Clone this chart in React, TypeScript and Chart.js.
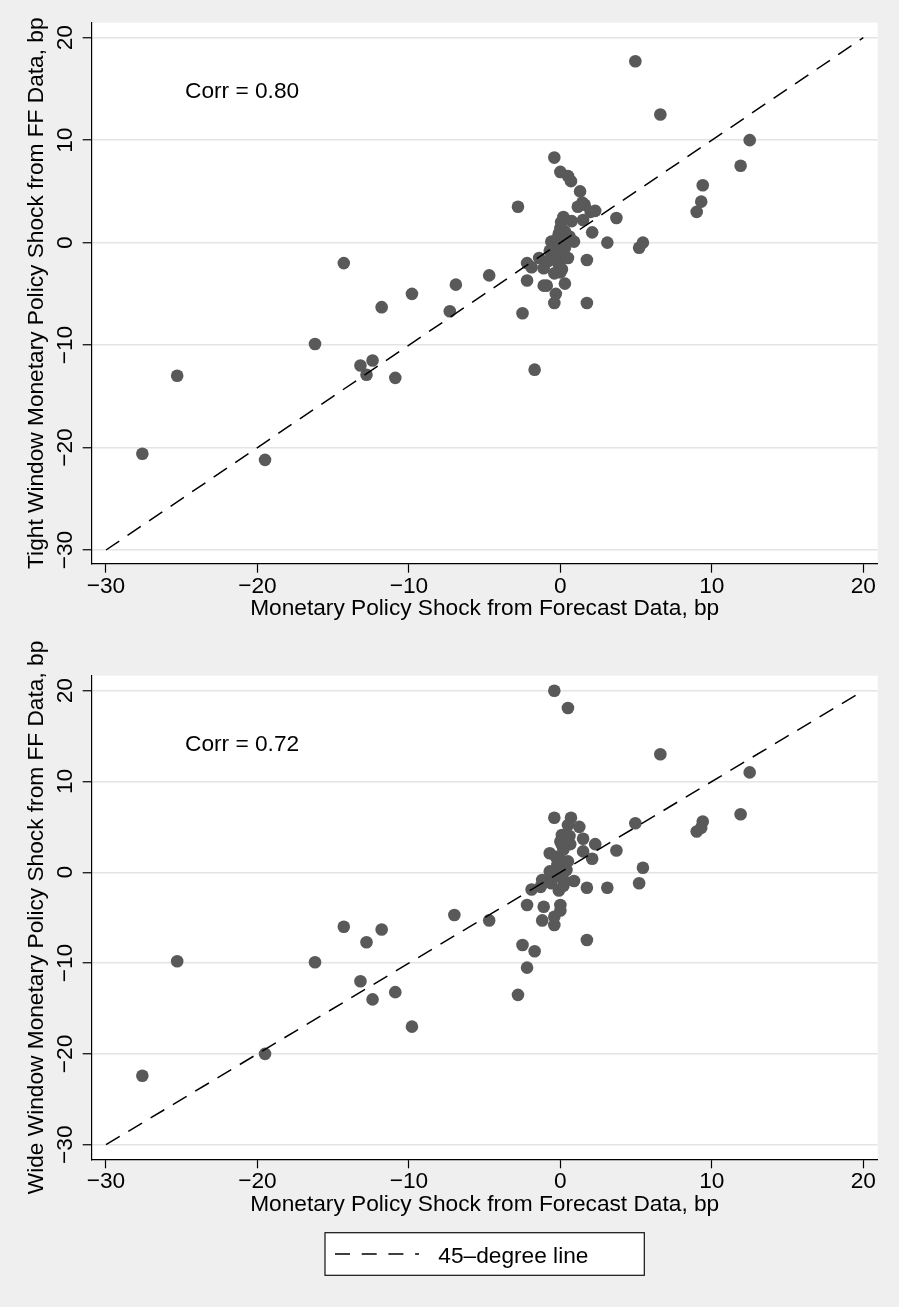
import React, { useEffect, useRef } from 'react';
import { Chart, registerables } from 'chart.js';

Chart.register(...registerables);

// ---- data ----
const topX = [
  -27.6, -25.3, -19.5, -16.2, -14.3, -13.2, -12.8, -12.4, -11.8, -10.9, -9.8, -7.3, -6.9, -4.7, -2.8, -2.5, -1.7,
  4.95, 6.6, 12.5, 11.9, 9.4, 9.3, 9.0, 5.45, 5.2, 3.1, 3.7, 2.3, 2.1, 1.75, 1.75,
  -0.4, 0.0, 0.5, 0.7, 1.3, 1.45, 1.15, 1.6, 2.0,
  0.2, 0.75, 1.5, 0.05, 0.0, -0.1, 0.3, 0.9, -0.6, -0.3, 0.0, 0.4, 0.6, -0.2, 0.2,
  -1.4, -2.2, -1.9, -1.1, -0.5, -0.1, 0.1, -0.4, 0.0, -2.2, -1.1, -0.9, 0.3, -0.3, -0.4,
  0.3, -0.7, 0.1, -0.2, 0.5, -0.8,
];
const topY = [
  -20.6, -13.0, -21.2, -9.9, -2.0, -12.0, -12.9, -11.5, -6.3, -13.2, -5.0, -6.7, -4.1, -3.2, 3.5, -6.9, -12.4,
  17.7, 12.5, 10.0, 7.5, 5.6, 4.0, 3.0, 0.0, -0.5, 0.0, 2.4, 3.1, 1.0, -1.7, -5.9,
  8.3, 6.9, 6.5, 6.0, 5.0, 3.9, 3.5, 3.7, 3.0,
  2.5, 2.1, 2.2, 2.0, 1.4, 0.9, 1.1, 0.1, 0.1, -0.1, -0.4, 0.4, 0.6, -0.9, -1.1,
  -1.5, -2.0, -2.4, -2.5, -1.6, -2.1, -2.6, -3.0, -2.9, -3.7, -4.2, -4.2, -4.0, -5.0, -5.9,
  -0.5, -0.8, 0.6, 0.4, -1.5, -1.8,
];

const bottomX = [
  -27.6, -25.3, -19.5, -16.2, -14.3, -13.2, -12.8, -12.4, -11.8, -10.9, -9.8, -7.0, -4.7, -2.8, -2.5, -2.2, -1.7, 1.75,
  -0.4, 0.5, 6.6, 12.5, 11.9, 9.4, 9.3, 9.0, 4.95, 5.45, 5.2, 3.1, 1.75, 3.7, 2.3, 2.1,
  -0.4, 0.7, 0.5, 1.25, 0.1, 0.0, 0.65, 1.5, 1.5, -0.7, 0.0, 0.5, -0.7, -1.2, -1.9, -1.3,
  0.0, -0.1, 0.9, 0.4, -2.2, -1.1, 0.0, 0.0, -0.4, -1.2, -0.4,
  0.2, -0.2, 0.3, -0.5, 0.1, -0.3, 0.6, 0.2, -0.6,
];
const bottomY = [
  -22.4, -9.8, -20.0, -9.9, -6.0, -12.0, -7.7, -14.0, -6.3, -13.2, -17.0, -4.7, -5.3, -13.5, -8.0, -10.5, -8.7, -7.45,
  20.0, 18.1, 13.0, 11.0, 6.4, 5.6, 4.9, 4.5, 5.4, 0.5, -1.2, -1.7, -1.7, 2.4, 3.1, 1.5,
  6.0, 6.0, 5.2, 5.0, 4.1, 3.4, 3.1, 3.7, 2.3, 2.1, 1.35, 1.2, 0.1, -0.85, -1.9, -1.6,
  -0.5, -2.0, -0.95, 0.25, -3.6, -3.8, -3.6, -4.2, -4.9, -5.3, -5.8,
  2.5, 0.8, -1.0, -0.3, 3.0, 1.7, 4.0, -1.5, -1.2,
];

const lineX = [-30, 20];
const lineY = [-30, 20];
const axisTicks = [-30, -20, -10, 0, 10, 20];

const xTitle = 'Monetary Policy Shock from Forecast Data, bp';
const topYTitle = 'Tight Window Monetary Policy Shock from FF Data, bp';
const bottomYTitle = 'Wide Window Monetary Policy Shock from FF Data, bp';
const topCorr = 'Corr = 0.80';
const bottomCorr = 'Corr = 0.72';
const legendLabel = '45\u2013degree line';

// ---- styling ----
const FONT = '"Liberation Sans", Arial, Helvetica, sans-serif';
const FS = 22.7;
const POINT = '#595959';
const fmt = (v: number) => String(v).replace('-', '\u2212');

type Opts = {
  xs: number[];
  ys: number[];
  yMin: number;
  yMax: number;
  yTitle: string;
  corr: string;
  pad: { left: number; right: number; top: number; bottom: number };
  xHeight: number;
  xTitlePad: number;
  tickPad: number;
  showLegend: boolean;
};

function buildChart(canvas: HTMLCanvasElement, o: Opts) {
  const points = o.xs.map((x, i) => ({ x, y: o.ys[i] }));
  const line = lineX.map((x, i) => ({ x, y: lineY[i] }));

  const decor = {
    id: 'decor',
    beforeDraw(chart: any) {
      const { ctx, chartArea: a } = chart;
      ctx.save();
      ctx.fillStyle = '#ffffff';
      ctx.fillRect(a.left, a.top, a.right - a.left, a.bottom - a.top);
      ctx.restore();
    },
    afterDraw(chart: any) {
      const { ctx, chartArea: a, scales } = chart;
      const ys = scales.y;
      ctx.save();
      ctx.fillStyle = '#000';
      ctx.font = `${FS}px ${FONT}`;
      ctx.textAlign = 'center';
      ctx.textBaseline = 'alphabetic';
      for (const v of axisTicks) {
        const py = ys.getPixelForValue(v);
        ctx.save();
        ctx.translate(72, py);
        ctx.rotate(-Math.PI / 2);
        ctx.fillText(fmt(v), 0, 0);
        ctx.restore();
      }
      ctx.save();
      ctx.translate(43, (a.top + a.bottom) / 2);
      ctx.rotate(-Math.PI / 2);
      ctx.fillText(o.yTitle, 0, 0);
      ctx.restore();

      ctx.textAlign = 'left';
      ctx.fillText(o.corr, 185, a.top + 75.3);

      if (o.showLegend) {
        const bx = 325, by = a.bottom + 73.4, bw = 319.3, bh = 42.6;
        ctx.fillStyle = '#fff';
        ctx.fillRect(bx, by, bw, bh);
        ctx.strokeStyle = '#111';
        ctx.lineWidth = 1.2;
        ctx.strokeRect(bx, by, bw, bh);
        const ly = by + bh / 2;
        ctx.beginPath();
        ctx.setLineDash([15, 11.7]);
        ctx.lineWidth = 1.5;
        ctx.strokeStyle = '#000';
        ctx.moveTo(335, ly);
        ctx.lineTo(419, ly);
        ctx.stroke();
        ctx.setLineDash([]);
        ctx.fillStyle = '#000';
        ctx.fillText(legendLabel, 438.3, by + 30);
      }
      ctx.restore();
    },
  };

  return new Chart(canvas, {
    type: 'scatter',
    data: {
      datasets: [
        {
          type: 'line',
          label: legendLabel,
          data: line,
          borderColor: '#000',
          borderWidth: 1.5,
          borderDash: [16, 10],
          pointRadius: 0,
          fill: false,
          showLine: true,
        } as any,
        {
          label: 'shocks',
          data: points,
          backgroundColor: POINT,
          borderWidth: 0,
          pointRadius: 6.3,
          pointHoverRadius: 6.3,
        },
      ],
    },
    options: {
      animation: false,
      responsive: false,
      devicePixelRatio: 1,
      events: [],
      layout: { padding: o.pad },
      plugins: { legend: { display: false }, tooltip: { enabled: false } },
      scales: {
        x: {
          type: 'linear',
          min: -30.944,
          max: 20.951,
          afterBuildTicks: (s: any) => {
            s.ticks = axisTicks.map((v) => ({ value: v }));
          },
          afterFit: (s: any) => {
            s.height = o.xHeight;
          },
          grid: {
            drawOnChartArea: false,
            drawTicks: true,
            tickLength: 9,
            tickColor: '#000',
            tickWidth: 1.2,
          },
          border: { display: true, color: '#000', width: 1.2 },
          ticks: {
            color: '#000',
            font: { family: FONT, size: FS },
            padding: o.tickPad,
            maxRotation: 0,
            autoSkip: false,
            callback: (v: any) => fmt(Number(v)),
          },
          title: {
            display: true,
            text: xTitle,
            color: '#000',
            font: { family: FONT, size: FS },
            padding: { top: 0, bottom: o.xTitlePad },
          },
        },
        y: {
          type: 'linear',
          min: o.yMin,
          max: o.yMax,
          afterBuildTicks: (s: any) => {
            s.ticks = axisTicks.map((v) => ({ value: v }));
          },
          afterFit: (s: any) => {
            s.width = 91.7;
          },
          grid: {
            color: '#e4e4e4',
            lineWidth: 1.5,
            drawTicks: true,
            tickLength: 9,
            tickColor: '#000',
            tickWidth: 1.2,
          },
          border: { display: true, color: '#000', width: 1.2 },
          ticks: { display: false },
        },
      },
    } as any,
    plugins: [decor],
  });
}

export default function App() {
  const topRef = useRef<HTMLCanvasElement>(null);
  const botRef = useRef<HTMLCanvasElement>(null);

  useEffect(() => {
    document.body.style.margin = '0';
    const c1 = buildChart(topRef.current!, {
      xs: topX,
      ys: topY,
      yMin: -31.337,
      yMax: 21.464,
      yTitle: topYTitle,
      corr: topCorr,
      pad: { left: 0, right: 21.3, top: 22.7, bottom: 6.3 },
      xHeight: 60,
      xTitlePad: 1.5,
      tickPad: 0.5,
      showLegend: false,
    });
    const c2 = buildChart(botRef.current!, {
      xs: bottomX,
      ys: bottomY,
      yMin: -31.608,
      yMax: 21.652,
      yTitle: bottomYTitle,
      corr: bottomCorr,
      pad: { left: 0, right: 21.3, top: 45.7, bottom: 87.7 },
      xHeight: 60,
      xTitlePad: 1.1,
      tickPad: 0,
      showLegend: true,
    });
    return () => {
      c1.destroy();
      c2.destroy();
    };
  }, []);

  return (
    <div
      style={{
        position: 'absolute',
        left: 0,
        top: 0,
        width: 899,
        height: 1307,
        background: '#efefef',
        overflow: 'hidden',
      }}
    >
      <canvas
        ref={topRef}
        width={899}
        height={630}
        style={{ position: 'absolute', left: 0, top: 0, width: 899, height: 630 }}
      />
      <canvas
        ref={botRef}
        width={899}
        height={677}
        style={{ position: 'absolute', left: 0, top: 630, width: 899, height: 677 }}
      />
    </div>
  );
}
